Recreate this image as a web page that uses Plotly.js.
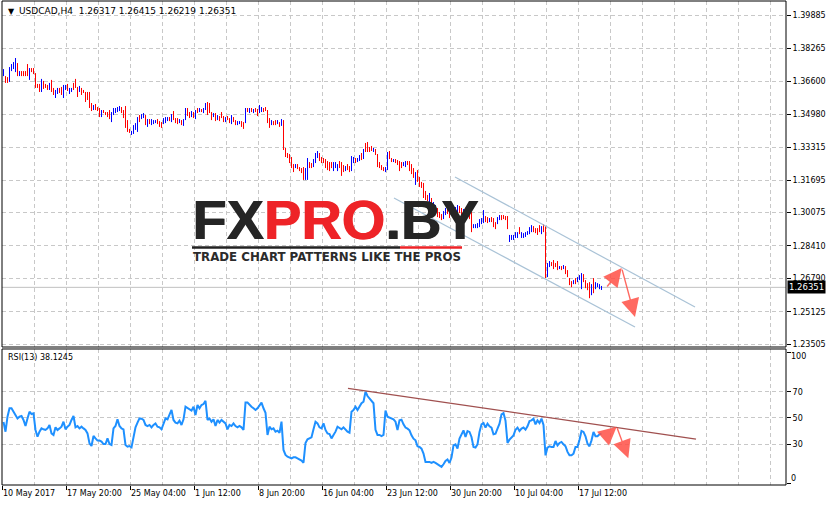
<!DOCTYPE html>
<html><head><meta charset="utf-8">
<script src="https://cdn.plot.ly/plotly-3.0.1.min.js"></script>
<style>html,body{margin:0;padding:0;background:#fff;}#chart{width:829px;height:506px;}</style>
</head><body><div id="chart"></div>
<script>
// ---------- DATA ----------
const symbol = "USDCAD,H4";
const headerOHLC = ["1.26317", "1.26415", "1.26219", "1.26351"];
const lastClose = 1.26351;
const rsiLabel = "RSI(13) 38.1245";

const barHigh = [
1.3722,1.3687,1.3682,1.3732,1.3747,1.3757,1.3777,1.3752,1.3712,1.3712,
1.3712,1.3712,1.3747,1.3727,1.3727,1.3727,1.3702,1.3648,1.3648,1.3673,
1.3663,1.3648,1.3643,1.3653,1.3668,1.3628,1.3618,1.3628,1.3628,1.3633,
1.3643,1.3643,1.3648,1.3628,1.3628,1.3653,1.3673,1.3633,1.3638,1.3628,
1.3618,1.3608,1.3608,1.3608,1.3553,1.3543,1.3548,1.3533,1.3528,1.3518,
1.3518,1.3508,1.3508,1.3518,1.3508,1.3528,1.3528,1.3533,1.3538,1.3533,
1.3518,1.3538,1.3468,1.3424,1.3414,1.3443,1.3453,1.3483,1.3493,1.3498,
1.3503,1.3493,1.3473,1.3473,1.3473,1.3468,1.3468,1.3473,1.3463,1.3458,
1.3478,1.3483,1.3483,1.3483,1.3498,1.3513,1.3478,1.3478,1.3473,1.3468,
1.3473,1.3528,1.3528,1.3508,1.3513,1.3508,1.3518,1.3528,1.3528,1.3523,
1.3528,1.3553,1.3558,1.3553,1.3508,1.3503,1.3503,1.3493,1.3488,1.3508,
1.3488,1.3483,1.3488,1.3478,1.3493,1.3483,1.3468,1.3463,1.3463,1.3463,
1.3458,1.3528,1.3528,1.3528,1.3528,1.3523,1.3528,1.3523,1.3543,1.3533,
1.3528,1.3533,1.3518,1.3478,1.3468,1.3463,1.3468,1.3468,1.3458,1.3473,
1.3468,1.3329,1.3304,1.3299,1.3284,1.3249,1.3249,1.3249,1.3234,1.3229,
1.3234,1.3229,1.3279,1.3259,1.3254,1.3274,1.3304,1.3314,1.3304,1.3284,
1.3279,1.3274,1.3264,1.3259,1.3259,1.3259,1.3259,1.3249,1.3264,1.3259,
1.3244,1.3239,1.3249,1.3239,1.3289,1.3284,1.3279,1.3279,1.3294,1.3304,
1.3324,1.3354,1.3359,1.3334,1.3339,1.3329,1.3324,1.3299,1.3259,1.3244,
1.3234,1.3234,1.3309,1.3314,1.3279,1.3274,1.3274,1.3269,1.3264,1.3259,
1.3259,1.3264,1.3264,1.3264,1.3249,1.3229,1.3209,1.3219,1.3185,1.3160,
1.3155,1.3115,1.3095,1.3105,1.3080,1.3060,1.3045,1.3030,1.3010,1.3000,
1.3015,1.3030,1.3030,1.3020,1.3025,1.3020,1.3035,1.3045,1.3040,1.3030,
1.3025,1.3030,1.3020,1.3020,1.3010,1.2950,1.2950,1.2955,1.2975,1.2980,
1.3020,1.2990,1.2985,1.2980,1.2985,1.2980,1.2960,1.2985,1.2995,1.2995,
1.2995,1.2990,1.2990,1.2896,1.2896,1.2896,1.2910,1.2910,1.2935,1.2910,
1.2905,1.2910,1.2915,1.2935,1.2945,1.2940,1.2930,1.2930,1.2945,1.2940,
1.2950,1.2940,1.2756,1.2766,1.2761,1.2771,1.2756,1.2766,1.2741,1.2741,
1.2746,1.2741,1.2721,1.2681,1.2666,1.2671,1.2681,1.2686,1.2696,1.2706,
1.2701,1.2671,1.2656,1.2661,1.2651,1.2681,1.2661,1.2656,1.2651,1.2642];

const barLow = [
1.3687,1.3653,1.3653,1.3658,1.3712,1.3722,1.3707,1.3687,1.3687,1.3687,
1.3687,1.3687,1.3687,1.3668,1.3707,1.3697,1.3628,1.3628,1.3608,1.3608,
1.3623,1.3628,1.3618,1.3618,1.3608,1.3593,1.3578,1.3598,1.3603,1.3593,
1.3578,1.3618,1.3613,1.3598,1.3608,1.3618,1.3628,1.3583,1.3608,1.3593,
1.3603,1.3558,1.3568,1.3528,1.3513,1.3518,1.3518,1.3513,1.3483,1.3483,
1.3503,1.3493,1.3483,1.3473,1.3458,1.3493,1.3503,1.3508,1.3513,1.3503,
1.3478,1.3429,1.3409,1.3404,1.3394,1.3399,1.3419,1.3409,1.3458,1.3473,
1.3478,1.3443,1.3434,1.3448,1.3443,1.3448,1.3453,1.3448,1.3434,1.3429,
1.3448,1.3453,1.3463,1.3463,1.3458,1.3468,1.3453,1.3448,1.3453,1.3443,
1.3439,1.3468,1.3488,1.3478,1.3483,1.3478,1.3473,1.3503,1.3508,1.3508,
1.3503,1.3518,1.3493,1.3503,1.3468,1.3483,1.3463,1.3468,1.3463,1.3478,
1.3458,1.3458,1.3468,1.3453,1.3448,1.3458,1.3443,1.3443,1.3448,1.3434,
1.3424,1.3453,1.3508,1.3503,1.3508,1.3503,1.3508,1.3488,1.3503,1.3508,
1.3508,1.3513,1.3453,1.3429,1.3443,1.3443,1.3443,1.3448,1.3434,1.3439,
1.3319,1.3284,1.3279,1.3254,1.3229,1.3209,1.3229,1.3224,1.3214,1.3204,
1.3170,1.3170,1.3170,1.3229,1.3229,1.3234,1.3254,1.3279,1.3264,1.3254,
1.3254,1.3229,1.3219,1.3214,1.3229,1.3214,1.3229,1.3214,1.3229,1.3190,
1.3209,1.3214,1.3219,1.3209,1.3214,1.3254,1.3254,1.3259,1.3264,1.3269,
1.3274,1.3309,1.3309,1.3309,1.3314,1.3309,1.3294,1.3234,1.3229,1.3219,
1.3214,1.3209,1.3219,1.3274,1.3259,1.3259,1.3254,1.3244,1.3214,1.3229,
1.3239,1.3234,1.3244,1.3214,1.3199,1.3180,1.3145,1.3160,1.3135,1.3130,
1.3080,1.3070,1.3065,1.3060,1.3035,1.3030,1.3005,1.2985,1.2980,1.2970,
1.2975,1.2995,1.3000,1.2980,1.2990,1.2985,1.3000,1.3010,1.3005,1.2990,
1.2995,1.3000,1.2995,1.2975,1.2910,1.2930,1.2930,1.2930,1.2935,1.2950,
1.2955,1.2960,1.2955,1.2960,1.2960,1.2935,1.2925,1.2950,1.2970,1.2970,
1.2975,1.2970,1.2925,1.2861,1.2871,1.2871,1.2881,1.2881,1.2900,1.2881,
1.2881,1.2886,1.2896,1.2900,1.2910,1.2910,1.2905,1.2896,1.2910,1.2900,
1.2910,1.2681,1.2686,1.2736,1.2741,1.2726,1.2736,1.2721,1.2726,1.2721,
1.2726,1.2701,1.2686,1.2646,1.2636,1.2651,1.2651,1.2661,1.2671,1.2626,
1.2661,1.2631,1.2621,1.2581,1.2596,1.2606,1.2626,1.2636,1.2626,1.2622];

// U = bullish bar (blue), D = bearish bar (red)
const barDir =
"UDDUUUUDUD"+"DDDUDDDDDU"+"DDDUDDUUDD"+"UUDUUDDDUD"+"DDDDDUDDDU"+
"DDDDUUUUUD"+"DDDDUUUUDU"+"UDUDUUUDDD"+"UUUDUDDDUD"+"UUDDUDUDUD"+
"UUDDDUDUDD"+"DUDDUDDUUD"+"DUDUDUDDUU"+"DDDDUDDUDU"+"DDDDDDUDDD"+
"DUUDDUUUDD"+"DDDDDUUUDD"+"DUDDUUDUUD"+"UDDDDUDDDD"+"DUUDDUDDDD"+
"UUDDDDUDDD"+"DDDUDUUDDD"+"UUDDUDUUDD"+"UUUDDUUUUU"+"UDDUDDDUUD"+
"DDDUUUUUDU"+"UUUUUDDDDU"+"DDUUDDDDUD"+"UDDDDUDUUU"+"DDDDUDUUUU";

const rsiValues = [
47,39.6,51,57.4,57.4,54.8,52.3,49.7,51,51.5,
48.5,43.9,49.7,54.8,53,53.5,40.9,35.8,39.6,42.1,
41.4,40.9,42.1,44.7,38.3,37.1,42.9,40.9,42.1,43.4,
47.2,41.4,43.4,44.7,48.5,51.5,42.9,43.9,42.1,43.4,
42.1,40.9,38.3,30.7,28.7,36.3,34.5,32.8,32.8,32,
30.2,30.2,34.5,30.2,29.5,42.1,43.9,49,43.9,42.1,
41.4,29.5,28.2,28.7,27.7,35.8,42.9,46.5,49.7,49.5,
48.5,44.7,43.9,44.7,42.9,44.7,45.9,43.4,42.9,41.4,
46.5,49.7,49,52.3,56.1,48.5,46.5,45.9,48,44.7,
49,58.6,57.4,56.1,55.6,58.6,52.3,59.9,57.4,59.9,
60.6,63,48.5,49.7,47.2,49,43.9,48.5,46.5,48.5,
47.2,45.9,41.4,44.7,43.9,45.9,43.9,42.9,43.9,42.9,
40.9,61.7,61.7,59.9,58.6,57.4,56.1,57.4,59.9,61.7,
57.4,54,37.1,43.4,41.4,42.1,39.6,40.4,38.8,47.2,
25.7,21.9,20.6,20.1,19.3,20.1,20.1,19.3,18.6,17.6,
16,31,33.8,34.5,35.3,41.4,47.2,45.9,42.9,42.1,
45.9,40.9,38.3,37.8,34.5,37.1,39.6,43.4,42.1,41.4,
42.9,40.9,39.6,38.8,54.8,56.1,58.6,56.1,59.1,61.2,
62.4,70,66.7,65,63.7,61.2,41,37.1,37.1,36.3,
37.1,55.6,51,50.5,49.7,49,47.2,40.9,48.2,48.7,
45.2,42.7,41.9,40.6,36.8,34.3,33,28.5,28,26.7,
22.9,16.6,16.6,16.6,15.8,16.6,15.8,14.8,13.3,12.8,
14.8,17.3,18.4,15.8,19.9,29.2,30,26.7,34.3,38.1,
40.6,35.6,40.1,39.4,35.6,28,27.5,30,39.4,45.2,
46.2,42.7,45.7,43.7,42.7,37.6,38.1,41.9,45.7,52.8,
53.8,48,31,33.5,35.6,36.8,41.1,42.7,40.1,41.9,
42.7,41.1,43.7,47.7,48.2,49.5,45.2,48.2,46.2,49.5,
44.7,21.6,27.5,28.5,28,28,32.5,29.2,31,31.8,
30,28.5,24.2,21.6,21.6,22.9,28,28,33.5,40.1,
39.4,36.1,30.5,28.5,33,39.4,36.1,36.1,37.6,38.1];

const priceTicks = [1.39885,1.38265,1.36600,1.34980,1.33315,1.31695,1.30075,1.28410,1.26790,1.25125,1.23505];
const rsiTicks = [0,30,50,70,100];
const rsiLevels = [30,50,70];
const timeTickBars = [0,32,64,96,128,160,192,224,256,288];
const timeTickLabels = ["10 May 2017","17 May 20:00","25 May 04:00","1 Jun 12:00","8 Jun 20:00",
  "16 Jun 04:00","23 Jun 12:00","30 Jun 20:00","10 Jul 04:00","17 Jul 12:00"];

// drawn objects (bar index, value)
const channelUpperBar = [225.75, 345.75], channelUpperPrice = [1.3185, 1.2537];
const channelLowerBar = [195.25, 315.75], channelLowerPrice = [1.3080, 1.2438];
const rsiTrendBar = [172.25, 346.25], rsiTrendValue = [72.6, 34.0];
const priceArrowBar = [301.25, 309.1, 315.75], priceArrowValue = [1.2632, 1.2731, 1.2487];
const rsiArrowBar = [300.75, 306.6, 312.4], rsiArrowValue = [35.6, 43.4, 19.4];

// ---------- BUILD ----------
const idx = barHigh.map((_, i) => i);
const FONT = 'DejaVu Sans';
const GRID = '#c8c8c8';
const DASH = '4px,3px';

function barSegments(dir) {
  const x = [], y = [];
  idx.forEach(i => {
    if (barDir[i] === dir) { x.push(i, i, null); y.push(barLow[i], barHigh[i], null); }
  });
  return {x, y};
}
const upSeg = barSegments('U'), downSeg = barSegments('D');

const traces = [
  {type:'scatter', mode:'lines', x: upSeg.x, y: upSeg.y, connectgaps:false,
   line:{color:'#0000ff', width:1}, xaxis:'x', yaxis:'y', hoverinfo:'skip'},
  {type:'scatter', mode:'lines', x: downSeg.x, y: downSeg.y, connectgaps:false,
   line:{color:'#ff0000', width:1}, xaxis:'x', yaxis:'y', hoverinfo:'skip'},
  {type:'scatter', mode:'lines', x: channelUpperBar, y: channelUpperPrice,
   line:{color:'#a9c2d6', width:1.2}, xaxis:'x', yaxis:'y', hoverinfo:'skip'},
  {type:'scatter', mode:'lines', x: channelLowerBar, y: channelLowerPrice,
   line:{color:'#a9c2d6', width:1.2}, xaxis:'x', yaxis:'y', hoverinfo:'skip'},
  {type:'scatter', mode:'lines', x: idx, y: rsiValues,
   line:{color:'#1e90ff', width:2}, xaxis:'x', yaxis:'y2', hoverinfo:'skip'},
  {type:'scatter', mode:'lines', x: rsiTrendBar, y: rsiTrendValue,
   line:{color:'#a0504f', width:1.3}, xaxis:'x', yaxis:'y2', hoverinfo:'skip'}
];

const px = X => (X - 2) / 784;      // decoration placement helpers (paper coords)
const py = Y => (485 - Y) / 484;

function arrow(xr, yr, x0, y0, x1, y1) {
  return {xref: xr, yref: yr, axref: xr, ayref: yr, x: x1, y: y1, ax: x0, ay: y0,
    showarrow: true, arrowhead: 2, arrowsize: 2.6, arrowwidth: 1.4,
    arrowcolor: 'rgba(255,80,70,0.85)', text: ''};
}

const logoText = '<b>FX<span style="color:#ee2327">PRO</span>.BY</b>';
const annotations = [
  {xref:'paper', yref:'paper', x:px(6), y:py(11), xanchor:'left', yanchor:'middle', showarrow:false,
   text:'\u25BC', font:{family:FONT, size:8, color:'#000'}},
  {xref:'paper', yref:'paper', x:px(17), y:py(11), xanchor:'left', yanchor:'middle', showarrow:false,
   text: symbol + '  ' + headerOHLC.join(' '), font:{family:FONT, size:9, color:'#000'}},
  {xref:'paper', yref:'paper', x:px(6), y:py(358), xanchor:'left', yanchor:'middle', showarrow:false,
   text: rsiLabel, font:{family:FONT, size:8, color:'#000'}},
  // logo (doubled with a 1px offset for a heavier weight)
  {xref:'paper', yref:'paper', x:px(190), y:py(219), xanchor:'left', yanchor:'middle', showarrow:false,
   text: logoText, font:{family:'Liberation Sans', size:56, color:'#252525'}},
  {xref:'paper', yref:'paper', x:px(190), y:py(219), xanchor:'left', yanchor:'middle', showarrow:false, xshift:1.2,
   text: logoText, font:{family:'Liberation Sans', size:56, color:'#252525'}},
  {xref:'paper', yref:'paper', x:px(191), y:py(257), xanchor:'left', yanchor:'middle', showarrow:false,
   text:'<b>TRADE CHART PATTERNS LIKE THE PROS</b>', font:{family:'DejaVu Sans', size:11.8, color:'#2b2b2b'}},
  // price tag
  {xref:'paper', yref:'y', x:1, y:lastClose, xanchor:'left', yanchor:'middle', xshift:1, showarrow:false,
   text: headerOHLC[3], bgcolor:'#000', borderpad:1, font:{family:FONT, size:8.5, color:'#fff'}},
  // RSI end labels (MT4 keeps them inside the panel)
  {xref:'paper', yref:'paper', x:1, y:py(356), xanchor:'left', yanchor:'middle', xshift:3, showarrow:false,
   text:'100', font:{family:FONT, size:8, color:'#000'}},
  {xref:'paper', yref:'paper', x:1, y:py(478), xanchor:'left', yanchor:'middle', xshift:3, showarrow:false,
   text:'0', font:{family:FONT, size:8, color:'#000'}},
  arrow('x','y', priceArrowBar[0], priceArrowValue[0], priceArrowBar[1], priceArrowValue[1]),
  arrow('x','y', priceArrowBar[1], priceArrowValue[1], priceArrowBar[2], priceArrowValue[2]),
  arrow('x','y2', rsiArrowBar[0], rsiArrowValue[0], rsiArrowBar[1], rsiArrowValue[1]),
  arrow('x','y2', rsiArrowBar[1], rsiArrowValue[1], rsiArrowBar[2], rsiArrowValue[2])
];

const shapes = [
  {type:'line', xref:'x domain', yref:'y', x0:0, x1:1, y0:lastClose, y1:lastClose,
   line:{color:'#c0c0c0', width:1}, layer:'below'},
  {type:'rect', xref:'x domain', yref:'y domain', x0:0, x1:1, y0:0, y1:1, line:{color:'#000', width:1}},
  {type:'rect', xref:'x domain', yref:'y2 domain', x0:0, x1:1, y0:0, y1:1, line:{color:'#000', width:1}},
  {type:'line', xref:'paper', yref:'paper', x0:px(192), x1:px(400), y0:py(247.5), y1:py(247.5),
   line:{color:'#222', width:2.5}},
  {type:'line', xref:'paper', yref:'paper', x0:px(400), x1:px(462), y0:py(247.5), y1:py(247.5),
   line:{color:'#ee2327', width:2.5}}
];

const layout = {
  width:829, height:506,
  margin:{l:2, r:43, t:1, b:21, pad:0},
  paper_bgcolor:'#fff', plot_bgcolor:'#fff',
  showlegend:false,
  font:{family:FONT, size:8, color:'#000'},
  xaxis:{range:[-0.75, 391.25], anchor:'y2', tickmode:'array',
    tickvals: timeTickBars.map(b => b - 0.5), ticktext: timeTickLabels,
    ticks:'outside', ticklen:4, tickcolor:'#000', ticklabelposition:'outside right', tickangle:0,
    showgrid:true, gridcolor:GRID, griddash:DASH, gridwidth:1,
    minor:{tickmode:'linear', tick0:-0.5, dtick:16, showgrid:true, gridcolor:GRID, griddash:DASH, ticks:''},
    zeroline:false, showline:false, fixedrange:true, tickfont:{family:FONT, size:8}},
  yaxis:{domain:[0.2851, 1], range:[1.23379, 1.40610], side:'right', anchor:'x',
    tickmode:'array', tickvals: priceTicks, ticktext: priceTicks.map(v => v.toFixed(5)),
    ticks:'outside', ticklen:4, tickcolor:'#000',
    showgrid:true, gridcolor:GRID, griddash:DASH, zeroline:false, showline:false,
    tickfont:{family:FONT, size:8}},
  yaxis2:{domain:[0, 0.2810], range:[-0.95, 102.47], side:'right', anchor:'x',
    tickmode:'array', tickvals: rsiTicks, ticktext: rsiTicks.map(v => (v === 0 || v === 100) ? '' : String(v)),
    ticks:'outside', ticklen:4, tickcolor:'#000',
    showgrid:false, zeroline:false, showline:false,
    minor:{tickmode:'array', tickvals: rsiLevels, showgrid:true, gridcolor:GRID, griddash:DASH, ticks:''},
    tickfont:{family:FONT, size:8}},
  annotations, shapes
};

Plotly.newPlot('chart', traces, layout, {staticPlot:true, displayModeBar:false});
</script>
</body></html>
